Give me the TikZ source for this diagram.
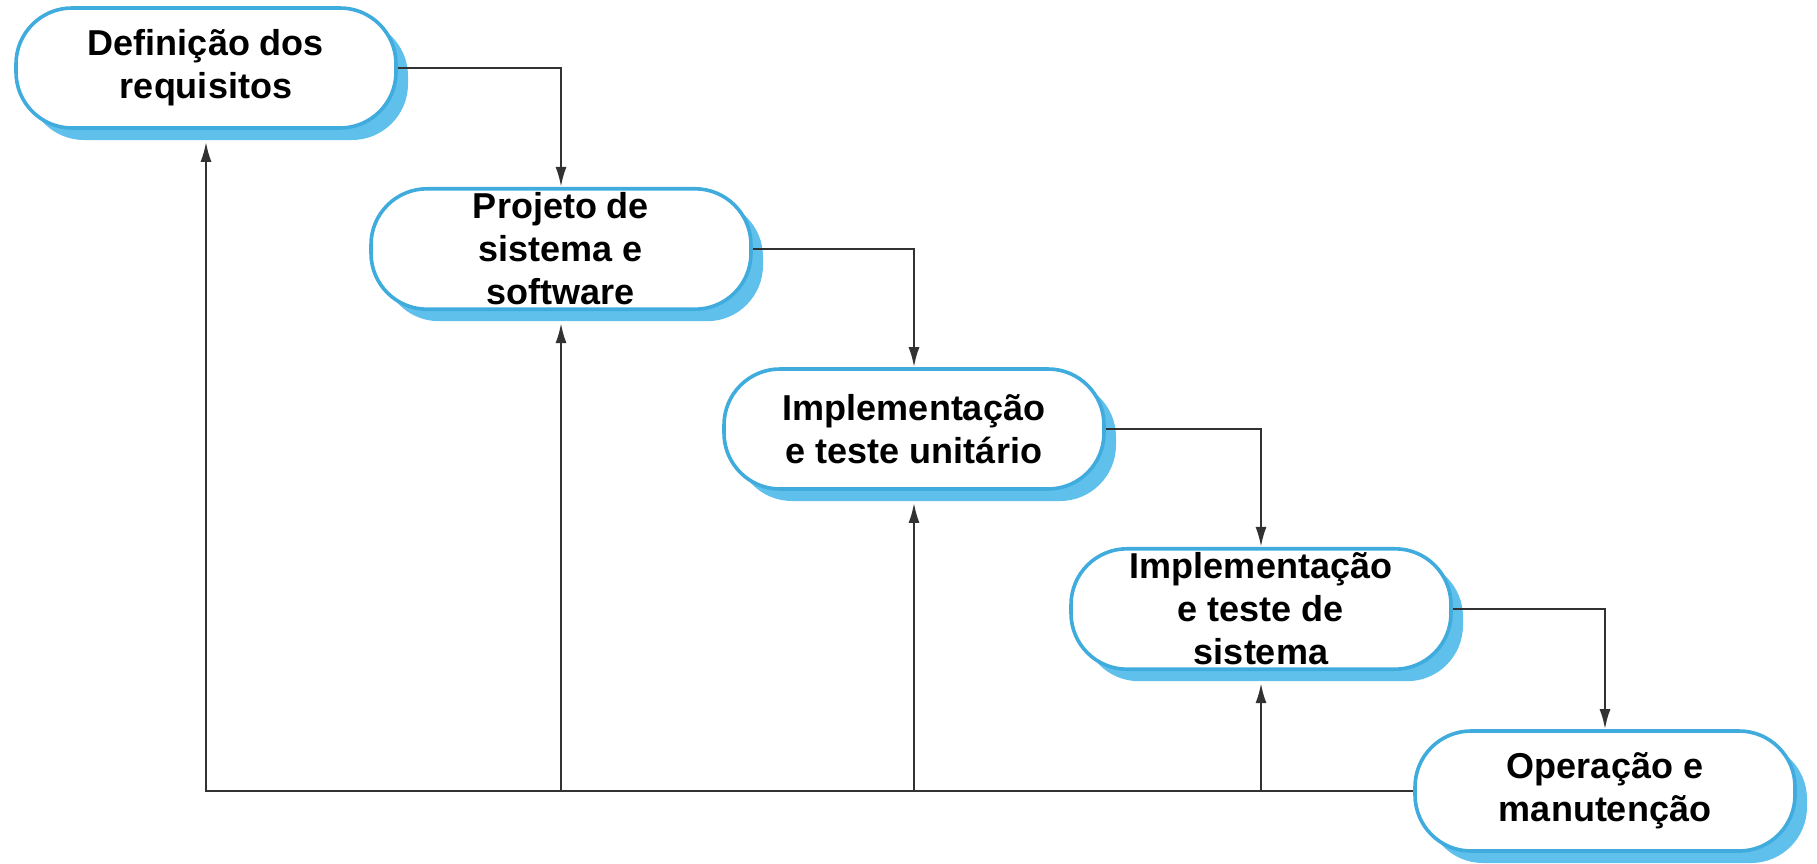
\documentclass[tikz,border=0pt]{standalone}
\usepackage{xcolor}
\usepackage{fontspec}
\setmainfont{Liberation Sans}
\usepackage{tikz}
\usetikzlibrary{arrows.meta,shadows}

\definecolor{boxline}{RGB}{64,172,222}
\definecolor{boxshadow}{RGB}{96,192,236}
\definecolor{linegray}{RGB}{50,50,50}

\tikzset{
  phase/.style={draw=boxline, line width=1.8pt, fill=white, rounded corners=28pt,
    minimum width=190pt, minimum height=60pt, align=center, inner sep=2pt,
    font=\bfseries\fontsize{18}{21.5}\selectfont,
    drop shadow={shadow xshift=6pt, shadow yshift=-6pt, fill=boxshadow, opacity=1}},
  flow/.style={draw=linegray, line width=1.2pt, -{Latex[length=10pt,width=5.5pt]}},
  back/.style={flow, shorten >=6pt}
}

\begin{document}
\begin{tikzpicture}[x=0.5pt,y=0.5pt,yscale=-1,xscale=1]
\useasboundingbox (0,0) rectangle (1817,863);

% Phase nodes
\node [phase] (req) at (206,68) {Definição dos\\requisitos};
\node [phase] (proj) at (561,249) {Projeto de\\sistema e\\software};
\node [phase] (impl) at (914,429) {Implementação\\e teste unitário};
\node [phase] (sist) at (1261,609) {Implementação\\e teste de\\sistema};
\node [phase] (oper) at (1605,791) {Operação e\\manutenção};

%Straight Lines: cascade
\draw [flow] (req.east) -| (proj.north);
\draw [flow] (proj.east) -| (impl.north);
\draw [flow] (impl.east) -| (sist.north);
\draw [flow] (sist.east) -| (oper.north);

%Straight Lines: feedback
\draw [back] (oper.west) -| (req.south);
\draw [back] (proj.south |- oper.west) -- (proj.south);
\draw [back] (impl.south |- oper.west) -- (impl.south);
\draw [back] (sist.south |- oper.west) -- (sist.south);

\end{tikzpicture}
\end{document}
